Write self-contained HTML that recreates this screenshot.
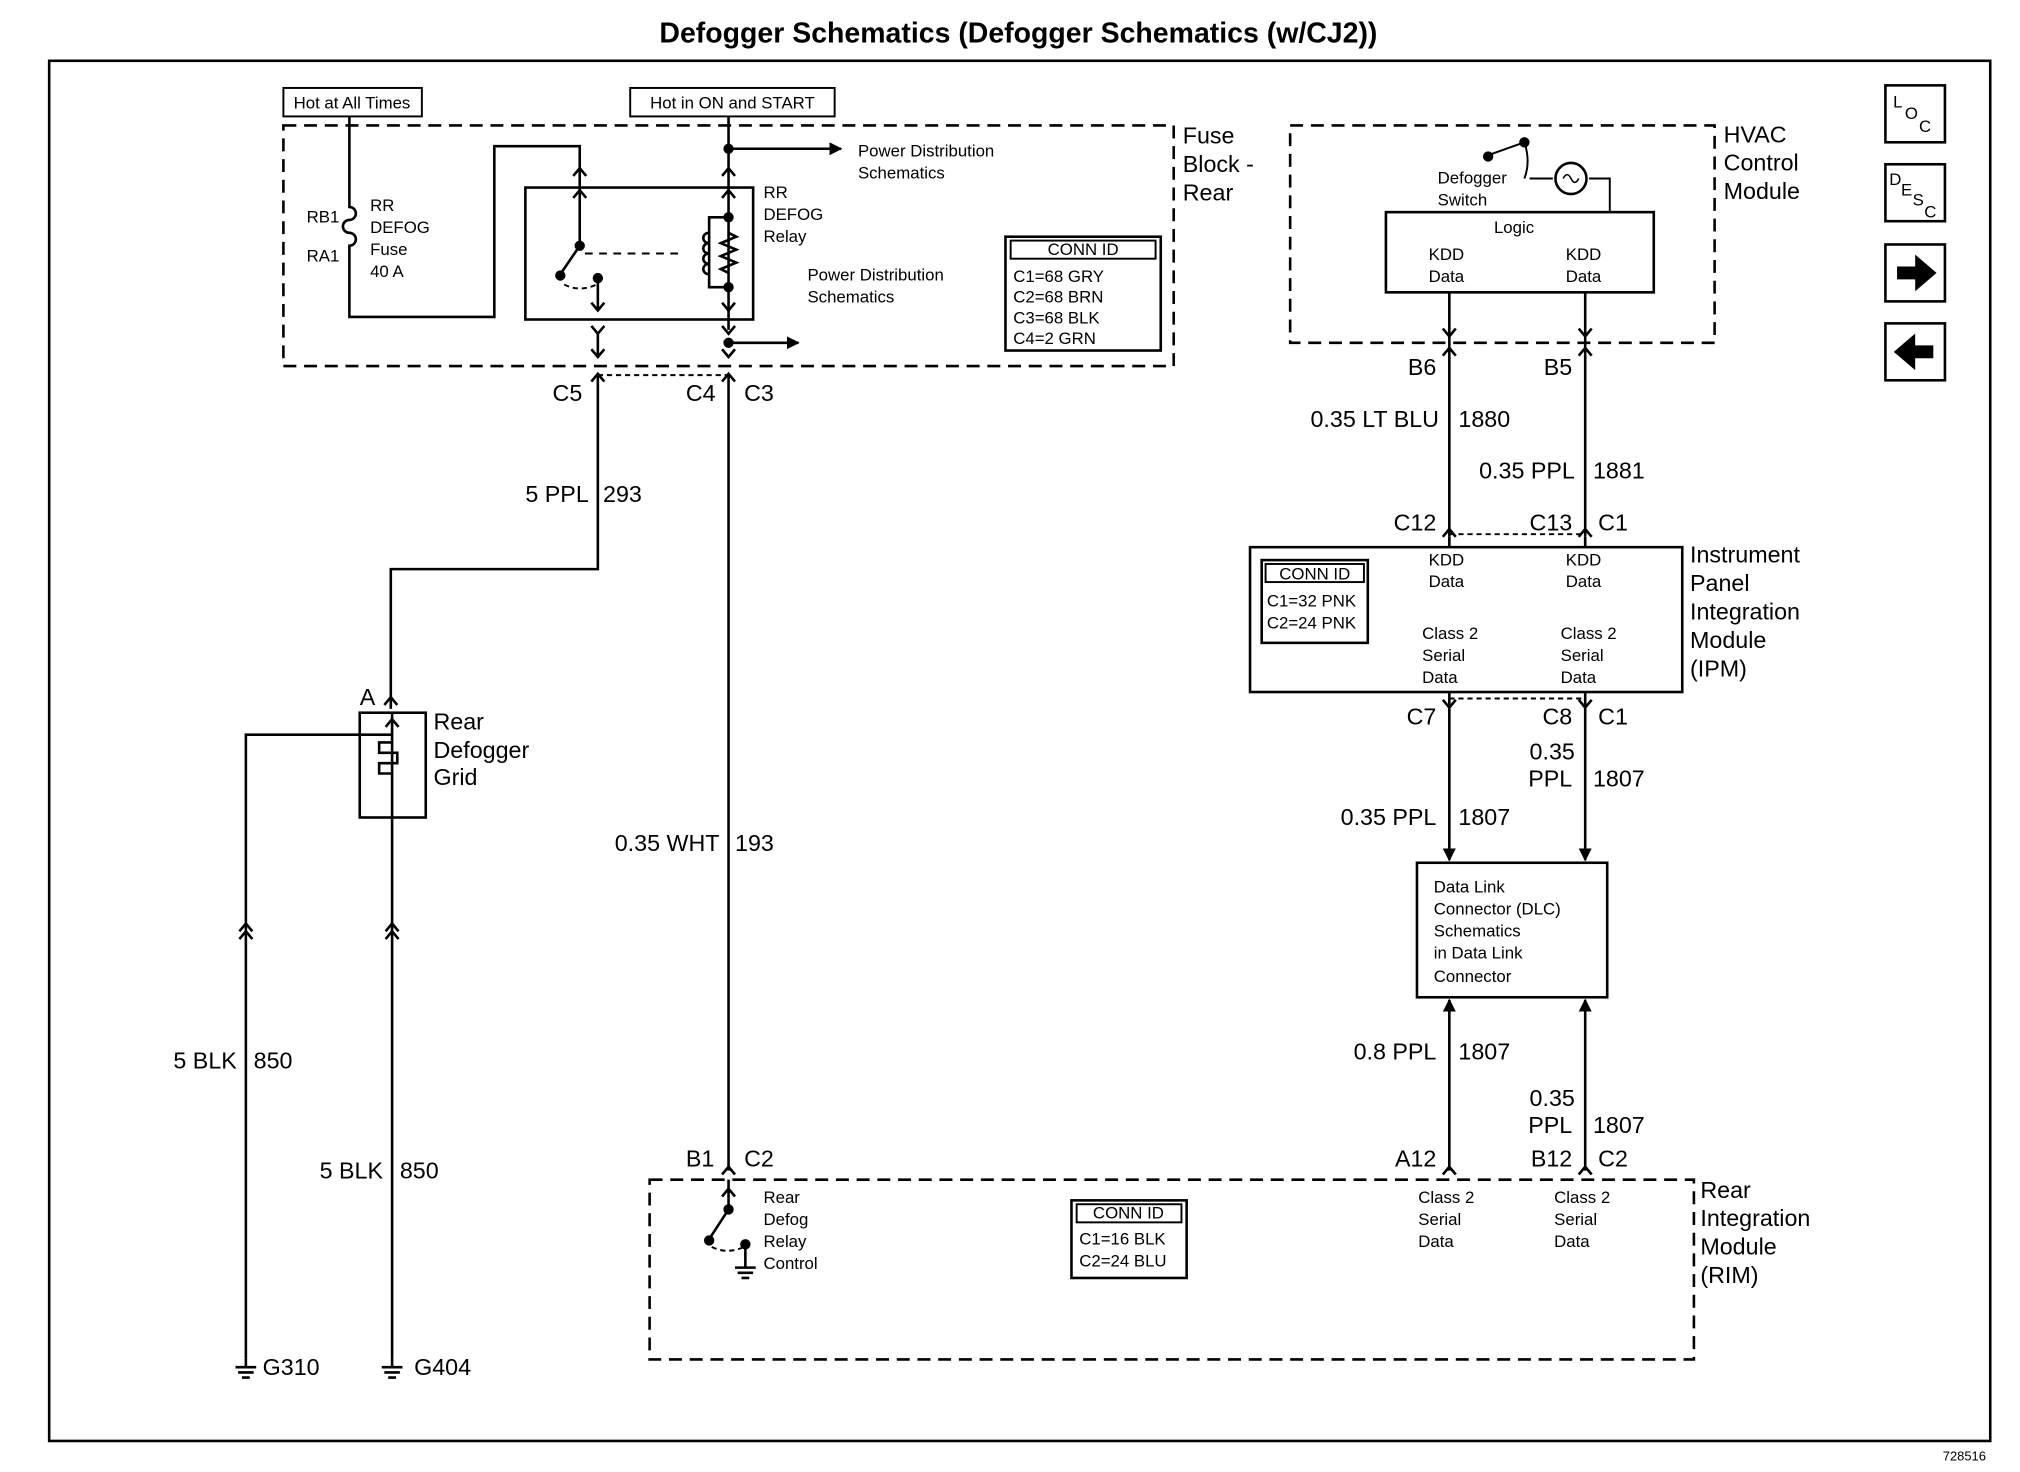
<!DOCTYPE html>
<html><head><meta charset="utf-8"><style>
html,body{margin:0;padding:0;background:#fff}
svg{display:block}
text{font-family:"Liberation Sans",Arial,sans-serif;fill:#000}
</style></head><body>
<svg width="2020" height="1472" viewBox="0 0 1561 1138" preserveAspectRatio="none" xmlns="http://www.w3.org/2000/svg">
<defs>
<marker id="ah" markerWidth="10" markerHeight="10" refX="9" refY="5" orient="auto" markerUnits="userSpaceOnUse"><path d="M0,0 L10,5 L0,10 Z" fill="#000"/></marker>
</defs>
<g stroke="#000" fill="none" stroke-width="2">
<text x="787" y="33" font-size="22" font-weight="bold" text-anchor="middle" stroke="none">Defogger Schematics (Defogger Schematics (w/CJ2))</text>
<rect x="38" y="47" width="1500" height="1067"/>
<text x="1518" y="1129" font-size="10" text-anchor="middle" stroke="none">728516</text>

<!-- fuse block -->
<rect x="219" y="97" width="688" height="186" stroke-dasharray="10,6"/>
<rect x="219" y="68" width="107" height="22" stroke-width="1.5"/>
<text x="272" y="84" font-size="13" text-anchor="middle" stroke="none">Hot at All Times</text>
<rect x="487" y="68" width="158" height="22" stroke-width="1.5"/>
<text x="566" y="84" font-size="13" text-anchor="middle" stroke="none">Hot in ON and START</text>
<text x="914" y="111" font-size="18" stroke="none">Fuse</text>
<text x="914" y="133" font-size="18" stroke="none">Block -</text>
<text x="914" y="155" font-size="18" stroke="none">Rear</text>
<path d="M270,90 V160 a5,5 0 0 1 0,10 a5,5 0 0 0 0,10 a5,5 0 0 1 0,10 V245 H382 V113 H448 V145"/>
<text x="237" y="172" font-size="13" stroke="none">RB1</text>
<text x="237" y="202" font-size="13" stroke="none">RA1</text>
<text x="286" y="163" font-size="13" stroke="none">RR</text>
<text x="286" y="180" font-size="13" stroke="none">DEFOG</text>
<text x="286" y="197" font-size="13" stroke="none">Fuse</text>
<text x="286" y="214" font-size="13" stroke="none">40 A</text>
<rect x="406" y="145" width="176" height="102"/>
<path d="M448,145 V190 M443,136 l5,-6 5,6 M443,153 l5,-6 5,6"/>
<path d="M563,90 V255 M558,136 l5,-6 5,6 M558,153 l5,-6 5,6"/>
<path d="M563,115 H650" marker-end="url(#ah)"/>
<circle cx="563" cy="115" r="3" fill="#000"/>
<text x="663" y="121" font-size="13" stroke="none">Power Distribution</text>
<text x="663" y="138" font-size="13" stroke="none">Schematics</text>
<path d="M448,190 L433,212"/><circle cx="448" cy="190" r="3" fill="#000"/><circle cx="433" cy="213" r="3" fill="#000"/>
<path d="M452,196 H525" stroke-dasharray="6,5" stroke-width="1.5"/>
<path d="M436,220 q12,6 25,0" stroke-dasharray="4,3" stroke-width="1.5"/>
<circle cx="462" cy="215" r="3" fill="#000"/>
<path d="M462,215 V240 M457,234 l5,6 5,-6"/>
<path d="M563,168 H548 V222 H563 M548,180 c-6,0 -6,8 0,8 c-6,0 -6,8 0,8 c-6,0 -6,8 0,8 c-6,0 -6,8 0,8"/>
<path d="M563,180 l6,3 -12,5 12,5 -12,5 12,5 -12,5 6,3"/>
<circle cx="563" cy="168" r="3" fill="#000"/><circle cx="563" cy="222" r="3" fill="#000"/>
<path d="M558,234 l5,6 5,-6"/>
<text x="590" y="153" font-size="13" stroke="none">RR</text>
<text x="590" y="170" font-size="13" stroke="none">DEFOG</text>
<text x="590" y="187" font-size="13" stroke="none">Relay</text>
<text x="624" y="217" font-size="13" stroke="none">Power Distribution</text>
<text x="624" y="234" font-size="13" stroke="none">Schematics</text>
<path d="M563,265 H617" marker-end="url(#ah)"/><circle cx="563" cy="265" r="3" fill="#000"/>
<path d="M457,252 l5,6 5,-6 M462,258 V275 M457,270 l5,6 5,-6"/>
<path d="M558,252 l5,6 5,-6 M558,270 l5,6 5,-6"/>
<path d="M457,295 l5,-6 5,6 M558,295 l5,-6 5,6"/>
<path d="M462,290 H563" stroke-dasharray="4,3" stroke-width="1.5"/>
<text x="450" y="310" font-size="18" text-anchor="end" stroke="none">C5</text>
<text x="553" y="310" font-size="18" text-anchor="end" stroke="none">C4</text>
<text x="575" y="310" font-size="18" stroke="none">C3</text>
<rect x="777" y="183" width="120" height="88"/>
<rect x="781" y="186" width="112" height="14" stroke-width="1.5"/>
<text x="837" y="197" font-size="13" text-anchor="middle" stroke="none">CONN ID</text>
<text x="783" y="218" font-size="13" stroke="none">C1=68 GRY</text>
<text x="783" y="234" font-size="13" stroke="none">C2=68 BRN</text>
<text x="783" y="250" font-size="13" stroke="none">C3=68 BLK</text>
<text x="783" y="266" font-size="13" stroke="none">C4=2 GRN</text>

<!-- wire 293 -->
<path d="M462,290 V440 H302 V548"/>
<text x="455" y="388" font-size="18" text-anchor="end" stroke="none">5 PPL</text>
<text x="466" y="388" font-size="18" stroke="none">293</text>
<path d="M297,545 l5,-6 5,6"/>
<text x="278" y="545" font-size="18" stroke="none">A</text>
<rect x="278" y="551" width="51" height="81"/>
<path d="M190,1050 V568 H303 M303,551 V632 M303,574 h-10 v8 h14 v8 h-14 v8 h10 M298,562 l5,-6 5,6"/>
<text x="335" y="564" font-size="18" stroke="none">Rear</text>
<text x="335" y="586" font-size="18" stroke="none">Defogger</text>
<text x="335" y="607" font-size="18" stroke="none">Grid</text>
<path d="M303,632 V1050"/>
<path d="M185,720 l5,-6 5,6 M185,726 l5,-6 5,6 M298,720 l5,-6 5,6 M298,726 l5,-6 5,6"/>
<text x="183" y="826" font-size="18" text-anchor="end" stroke="none">5 BLK</text>
<text x="196" y="826" font-size="18" stroke="none">850</text>
<text x="296" y="911" font-size="18" text-anchor="end" stroke="none">5 BLK</text>
<text x="309" y="911" font-size="18" stroke="none">850</text>
<path d="M182,1057 h16 M184,1061 h12 M187,1065 h6 M190,1050 v7 M295,1057 h16 M297,1061 h12 M300,1065 h6 M303,1050 v7"/>
<text x="203" y="1063" font-size="18" stroke="none">G310</text>
<text x="320" y="1063" font-size="18" stroke="none">G404</text>

<!-- wire 193 -->
<path d="M563,290 V905"/>
<text x="556" y="658" font-size="18" text-anchor="end" stroke="none">0.35 WHT</text>
<text x="568" y="658" font-size="18" stroke="none">193</text>
<path d="M558,908 l5,-6 5,6"/>
<text x="552" y="902" font-size="18" text-anchor="end" stroke="none">B1</text>
<text x="575" y="902" font-size="18" stroke="none">C2</text>

<!-- RIM -->
<rect x="502" y="912" width="807" height="139" stroke-dasharray="10,6"/>
<path d="M563,912 V935 L548,958 M558,925 l5,-6 5,6"/><circle cx="563" cy="935" r="3" fill="#000"/><circle cx="548" cy="959" r="3" fill="#000"/>
<path d="M550,964 q12,6 25,0" stroke-dasharray="4,3" stroke-width="1.5"/>
<circle cx="576" cy="962" r="3" fill="#000"/>
<path d="M576,962 V980 M568,980 h16 M570,984 h12 M573,988 h6"/>
<text x="590" y="930" font-size="13" stroke="none">Rear</text>
<text x="590" y="947" font-size="13" stroke="none">Defog</text>
<text x="590" y="964" font-size="13" stroke="none">Relay</text>
<text x="590" y="981" font-size="13" stroke="none">Control</text>
<rect x="828" y="928" width="89" height="60"/>
<rect x="832" y="931" width="81" height="14" stroke-width="1.5"/>
<text x="872" y="942" font-size="13" text-anchor="middle" stroke="none">CONN ID</text>
<text x="834" y="962" font-size="13" stroke="none">C1=16 BLK</text>
<text x="834" y="979" font-size="13" stroke="none">C2=24 BLU</text>
<text x="1096" y="930" font-size="13" stroke="none">Class 2</text>
<text x="1096" y="947" font-size="13" stroke="none">Serial</text>
<text x="1096" y="964" font-size="13" stroke="none">Data</text>
<text x="1201" y="930" font-size="13" stroke="none">Class 2</text>
<text x="1201" y="947" font-size="13" stroke="none">Serial</text>
<text x="1201" y="964" font-size="13" stroke="none">Data</text>
<text x="1314" y="926" font-size="18" stroke="none">Rear</text>
<text x="1314" y="948" font-size="18" stroke="none">Integration</text>
<text x="1314" y="970" font-size="18" stroke="none">Module</text>
<text x="1314" y="992" font-size="18" stroke="none">(RIM)</text>

<!-- HVAC -->
<rect x="997" y="97" width="328" height="168" stroke-dasharray="10,6"/>
<text x="1332" y="110" font-size="18" stroke="none">HVAC</text>
<text x="1332" y="132" font-size="18" stroke="none">Control</text>
<text x="1332" y="154" font-size="18" stroke="none">Module</text>
<rect x="1071" y="164" width="207" height="62"/>
<path d="M1150,120 L1178,110 M1178,110 q5,15 0,28 M1182,138 H1200 M1228,138 H1244 V164" stroke-width="1.5"/>
<circle cx="1150" cy="121" r="3" fill="#000"/><circle cx="1178" cy="110" r="3" fill="#000"/>
<circle cx="1214" cy="138" r="12"/><path d="M1208,138 q3,-6 6,0 q3,6 6,0" stroke-width="1.2"/>
<text x="1111" y="142" font-size="13" stroke="none">Defogger</text>
<text x="1111" y="159" font-size="13" stroke="none">Switch</text>
<text x="1170" y="180" font-size="13" text-anchor="middle" stroke="none">Logic</text>
<text x="1104" y="201" font-size="13" stroke="none">KDD</text>
<text x="1104" y="218" font-size="13" stroke="none">Data</text>
<text x="1210" y="201" font-size="13" stroke="none">KDD</text>
<text x="1210" y="218" font-size="13" stroke="none">Data</text>
<path d="M1120,226 V415 M1225,226 V415 M1115,254 l5,6 5,-6 M1220,254 l5,6 5,-6 M1115,275 l5,-6 5,6 M1220,275 l5,-6 5,6"/>
<text x="1110" y="290" font-size="18" text-anchor="end" stroke="none">B6</text>
<text x="1215" y="290" font-size="18" text-anchor="end" stroke="none">B5</text>
<text x="1112" y="330" font-size="18" text-anchor="end" stroke="none">0.35 LT BLU</text>
<text x="1127" y="330" font-size="18" stroke="none">1880</text>
<text x="1217" y="370" font-size="18" text-anchor="end" stroke="none">0.35 PPL</text>
<text x="1231" y="370" font-size="18" stroke="none">1881</text>
<path d="M1115,415 l5,-6 5,6 M1220,415 l5,-6 5,6" />
<path d="M1120,413 H1225" stroke-dasharray="4,3" stroke-width="1.5"/>
<text x="1110" y="410" font-size="18" text-anchor="end" stroke="none">C12</text>
<text x="1215" y="410" font-size="18" text-anchor="end" stroke="none">C13</text>
<text x="1235" y="410" font-size="18" stroke="none">C1</text>

<!-- IPM -->
<rect x="966" y="423" width="334" height="112"/>
<path d="M1120,415 V423 M1225,415 V423"/>
<rect x="975" y="433" width="82" height="64"/>
<rect x="978" y="436" width="76" height="14" stroke-width="1.5"/>
<text x="1016" y="448" font-size="13" text-anchor="middle" stroke="none">CONN ID</text>
<text x="979" y="469" font-size="13" stroke="none">C1=32 PNK</text>
<text x="979" y="486" font-size="13" stroke="none">C2=24 PNK</text>
<text x="1104" y="437" font-size="13" stroke="none">KDD</text>
<text x="1104" y="454" font-size="13" stroke="none">Data</text>
<text x="1210" y="437" font-size="13" stroke="none">KDD</text>
<text x="1210" y="454" font-size="13" stroke="none">Data</text>
<text x="1099" y="494" font-size="13" stroke="none">Class 2</text>
<text x="1099" y="511" font-size="13" stroke="none">Serial</text>
<text x="1099" y="528" font-size="13" stroke="none">Data</text>
<text x="1206" y="494" font-size="13" stroke="none">Class 2</text>
<text x="1206" y="511" font-size="13" stroke="none">Serial</text>
<text x="1206" y="528" font-size="13" stroke="none">Data</text>
<text x="1306" y="435" font-size="18" stroke="none">Instrument</text>
<text x="1306" y="457" font-size="18" stroke="none">Panel</text>
<text x="1306" y="479" font-size="18" stroke="none">Integration</text>
<text x="1306" y="501" font-size="18" stroke="none">Module</text>
<text x="1306" y="523" font-size="18" stroke="none">(IPM)</text>
<path d="M1120,540 H1225" stroke-dasharray="4,3" stroke-width="1.5"/>
<path d="M1115,541 l5,6 5,-6 M1220,541 l5,6 5,-6 M1120,535 V547 M1225,535 V547"/>
<path d="M1120,547 V665" marker-end="url(#ah)"/>
<path d="M1225,547 V665" marker-end="url(#ah)"/>
<text x="1110" y="560" font-size="18" text-anchor="end" stroke="none">C7</text>
<text x="1215" y="560" font-size="18" text-anchor="end" stroke="none">C8</text>
<text x="1235" y="560" font-size="18" stroke="none">C1</text>
<text x="1217" y="587" font-size="18" text-anchor="end" stroke="none">0.35</text>
<text x="1215" y="608" font-size="18" text-anchor="end" stroke="none">PPL</text>
<text x="1231" y="608" font-size="18" stroke="none">1807</text>
<text x="1110" y="638" font-size="18" text-anchor="end" stroke="none">0.35 PPL</text>
<text x="1127" y="638" font-size="18" stroke="none">1807</text>

<!-- DLC -->
<rect x="1095" y="667" width="147" height="104"/>
<text x="1108" y="690" font-size="13" stroke="none">Data Link</text>
<text x="1108" y="707" font-size="13" stroke="none">Connector (DLC)</text>
<text x="1108" y="724" font-size="13" stroke="none">Schematics</text>
<text x="1108" y="741" font-size="13" stroke="none">in Data Link</text>
<text x="1108" y="759" font-size="13" stroke="none">Connector</text>
<path d="M1120,905 V773" marker-end="url(#ah)"/>
<path d="M1225,905 V773" marker-end="url(#ah)"/>
<path d="M1115,908 l5,-6 5,6 M1220,908 l5,-6 5,6"/>
<text x="1110" y="819" font-size="18" text-anchor="end" stroke="none">0.8 PPL</text>
<text x="1127" y="819" font-size="18" stroke="none">1807</text>
<text x="1217" y="855" font-size="18" text-anchor="end" stroke="none">0.35</text>
<text x="1215" y="876" font-size="18" text-anchor="end" stroke="none">PPL</text>
<text x="1231" y="876" font-size="18" stroke="none">1807</text>
<text x="1110" y="902" font-size="18" text-anchor="end" stroke="none">A12</text>
<text x="1215" y="902" font-size="18" text-anchor="end" stroke="none">B12</text>
<text x="1235" y="902" font-size="18" stroke="none">C2</text>

<!-- nav icons -->
<rect x="1457" y="66" width="46" height="44"/>
<text x="1463" y="83" font-size="13" stroke="none">L</text><text x="1472" y="92" font-size="13" stroke="none">O</text><text x="1483" y="102" font-size="13" stroke="none">C</text>
<rect x="1457" y="127" width="46" height="44"/>
<text x="1460" y="143" font-size="13" stroke="none">D</text><text x="1469" y="151" font-size="13" stroke="none">E</text><text x="1478" y="159" font-size="13" stroke="none">S</text><text x="1487" y="168" font-size="13" stroke="none">C</text>
<rect x="1457" y="189" width="46" height="44"/>
<path d="M1467,207 h14 v-8 l14,12 -14,12 v-8 h-14 z" fill="#000"/>
<rect x="1457" y="250" width="46" height="44"/>
<path d="M1493,268 h-14 v-8 l-14,12 14,12 v-8 h14 z" fill="#000"/>
</g>
</svg>
</body></html>
